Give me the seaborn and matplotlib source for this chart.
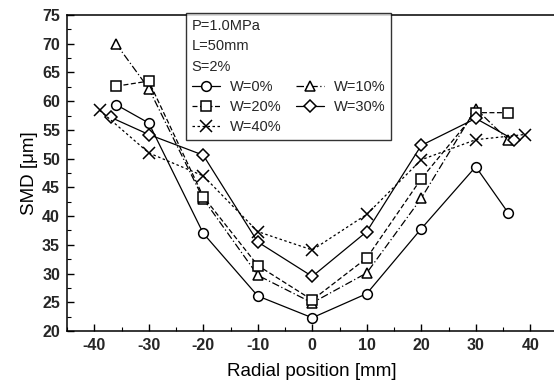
import matplotlib
matplotlib.use("Agg")
import matplotlib.pyplot as plt
from matplotlib.lines import Line2D
from matplotlib.ticker import MultipleLocator
import seaborn as sns
import pandas as pd

# ---- data ----
x_w0 = [-36, -30, -20, -10, 0, 10, 20, 30, 36]
y_w0 = [59.4, 56.2, 37.0, 26.1, 22.3, 26.5, 37.8, 48.6, 40.5]

x_w10 = [-36, -30, -20, -10, 0, 10, 20, 30, 36]
y_w10 = [70.0, 62.2, 43.0, 29.7, 24.9, 30.1, 43.1, 58.7, 53.2]

x_w20 = [-36, -30, -20, -10, 0, 10, 20, 30, 36]
y_w20 = [62.6, 63.5, 43.4, 31.4, 25.4, 32.7, 46.5, 58.0, 58.0]

x_w30 = [-37, -30, -20, -10, 0, 10, 20, 30, 37]
y_w30 = [57.2, 54.2, 50.6, 35.5, 29.5, 37.3, 52.3, 57.0, 53.3]

x_w40 = [-39, -30, -20, -10, 0, 10, 20, 30, 39]
y_w40 = [58.4, 51.0, 47.0, 37.3, 34.1, 40.3, 49.8, 53.3, 54.2]

series_labels = ["W=0%", "W=10%", "W=20%", "W=30%", "W=40%"]
info_lines = ["P=1.0MPa", "L=50mm", "S=2%"]
x_label = "Radial position [mm]"
y_label = "SMD [\u03bcm]"

series = [
    (x_w0, y_w0, "o", "-"),
    (x_w10, y_w10, "^", (0, (6, 2, 1, 2))),
    (x_w20, y_w20, "s", (0, (4, 2))),
    (x_w30, y_w30, "D", "-"),
    (x_w40, y_w40, "x", (0, (2, 2))),
]

sns.set_theme(style="ticks")
plt.rcParams["font.family"] = ["Liberation Sans", "DejaVu Sans"]
plt.rcParams["axes.unicode_minus"] = False

fig = plt.figure(figsize=(5.54, 3.87), dpi=100)
ax = fig.add_axes([67 / 554, 56 / 387, 490.5 / 554, 316 / 387])

handles = []
for (xs, ys, mk, ls), lab in zip(series, series_labels):
    df = pd.DataFrame({"x": xs, "y": ys})
    ms = 6 if mk == "D" else 7
    if mk == "x":
        ms = 8
    sns.lineplot(data=df, x="x", y="y", ax=ax, color="black", linewidth=0.9,
                 linestyle=ls, marker=mk, markersize=ms,
                 markerfacecolor="white", markeredgecolor="black",
                 markeredgewidth=1.1, sort=False, legend=False)
    handles.append(Line2D([], [], color="black", linewidth=0.9, linestyle=ls,
                          marker=mk, markersize=ms, markerfacecolor="white",
                          markeredgecolor="black", markeredgewidth=1.1, label=lab))

ax.set_xlim(-45, 45)
ax.set_ylim(20, 75)
ax.xaxis.set_major_locator(MultipleLocator(10))
ax.xaxis.set_minor_locator(MultipleLocator(5))
ax.yaxis.set_major_locator(MultipleLocator(5))
ax.yaxis.set_minor_locator(MultipleLocator(2.5))
ax.tick_params(which="both", direction="in", top=False, right=False, color="black")
ax.tick_params(which="major", length=5, width=1, labelsize=11.5, pad=5)
ax.tick_params(which="minor", length=3, width=0.8)
for lbl in ax.get_xticklabels() + ax.get_yticklabels():
    lbl.set_fontweight("bold")
for sp in ax.spines.values():
    sp.set_color("black")
    sp.set_linewidth(1.1)

ax.set_xlabel(x_label, fontsize=13.5, color="black", labelpad=7)
ax.set_ylabel(y_label, fontsize=13.5, color="black", labelpad=3)

order = [0, 2, 4, 1, 3]
leg = ax.legend([handles[i] for i in order], [series_labels[i] for i in order],
                ncol=2, title="\n".join(info_lines), loc="upper left",
                bbox_to_anchor=(186 / 554, 1 - 13 / 387), bbox_transform=fig.transFigure,
                borderaxespad=0, frameon=True, fancybox=False, edgecolor="black",
                fontsize=10.5, title_fontsize=10.5, alignment="left",
                handlelength=1.9, handletextpad=0.7, columnspacing=1.0,
                labelspacing=0.42, borderpad=0.4)
leg.get_frame().set_linewidth(1.0)
leg.get_title().set_linespacing(1.6)

fig.savefig("out.png", dpi=100, facecolor="white")
